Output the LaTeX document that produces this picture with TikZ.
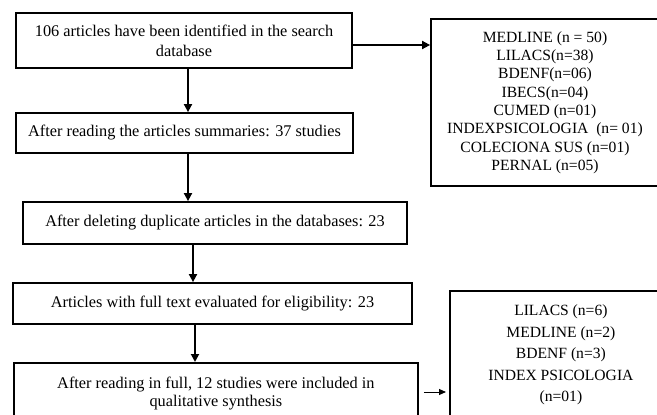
\documentclass[tikz,border=0pt]{standalone}
\usepackage{fontspec}
\setmainfont{Liberation Serif}
\usetikzlibrary{arrows.meta}
\begin{document}
\begin{tikzpicture}[x=1pt,y=-1pt,
  box/.style={draw,line width=1.8pt,rectangle,inner sep=0pt,align=center,font=\fontsize{16.3}{20}\selectfont},
  side/.style={box,font=\fontsize{15.6}{18.3}\selectfont},
  arr/.style={line width=1.8pt,-{Triangle[length=8pt,width=8pt]}},
  thinarr/.style={line width=1pt,-{Triangle[length=7pt,width=6pt]}}]
\useasboundingbox (0,0) rectangle (657,415);
\clip (0,0) rectangle (657,415);
\fill[white] (0,0) rectangle (657,415);
% left column
\node[box,minimum width=336pt,minimum height=55pt] (b1) at (184,40.5)
  {106 articles have been identified in the search\\database};
\node[box,minimum width=337pt,minimum height=40pt] (b2) at (184.5,133)
  {After reading the articles summaries: 37 studies};
\node[box,minimum width=384pt,minimum height=42pt] (b3) at (215,223)
  {After deleting duplicate articles in the databases: 23};
\node[box,minimum width=399pt,minimum height=41pt] (b4) at (212.5,303.5)
  {Articles with full text evaluated for eligibility: 23};
\node[box,anchor=north west,minimum width=404pt,inner ysep=14pt] (b5) at (13,362)
  {\parbox[c][100pt][t]{390pt}{\centering\fontsize{16.3}{18.5}\selectfont
   After reading in full, 12 studies were included in\\qualitative synthesis}};
% right column
\node[side,minimum width=228pt,minimum height=167pt] (r1) at (545,102.5)
  {MEDLINE (n = 50)\\LILACS(n=38)\\BDENF(n=06)\\IBECS(n=04)\\CUMED (n=01)\\INDEXPSICOLOGIA\ \ (n= 01)\\COLECIONA SUS (n=01)\\PERNAL (n=05)};
\node[side,anchor=north west,minimum width=222pt,inner ysep=14pt] (r2) at (449,290)
  {\parbox[c][150pt][t]{200pt}{\centering\fontsize{15.6}{21.5}\selectfont
   LILACS (n=6)\\MEDLINE (n=2)\\BDENF (n=3)\\INDEX PSICOLOGIA\\(n=01)}};
% connectors
\draw[arr] ([xshift=4pt]b1.south) -- ([xshift=4pt]b1.south |- b2.north);
\draw[arr] ([xshift=3.5pt]b2.south) -- ([xshift=3.5pt]b2.south |- b3.north);
\draw[arr] ([xshift=-22pt]b3.south) -- ([xshift=-22pt]b3.south |- b4.north);
\draw[arr] ([xshift=-17.5pt]b4.south) -- ([xshift=-17.5pt]b4.south |- b5.north);
\draw[arr] ([yshift=-4.5pt]b1.east) -- ([yshift=-4.5pt]b1.east -| r1.west);
\draw[thinarr] ([xshift=5pt]b5.east |- 0,392) -- ([xshift=-3pt]r2.west |- 0,392);
\end{tikzpicture}
\end{document}
